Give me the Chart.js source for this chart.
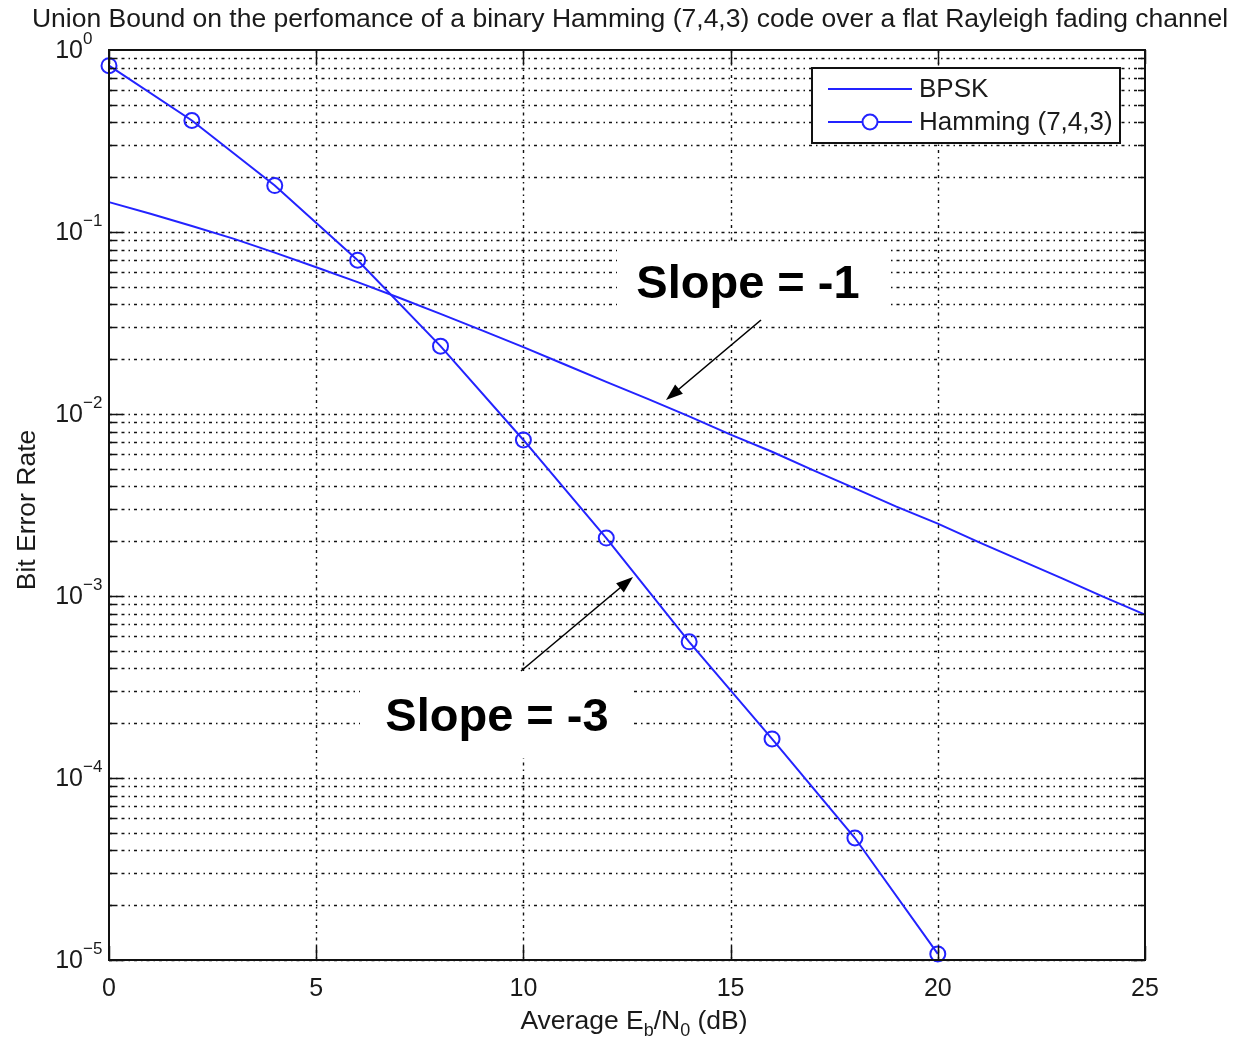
<!DOCTYPE html>
<html>
<head>
<meta charset="UTF-8">
<title>Union Bound - Hamming (7,4,3)</title>
<script src="https://cdn.jsdelivr.net/npm/chart.js"></script>
<style>
    body {
        margin: 0;
        background: #fff;
    }
    #wrap {
        width: 1238px;
        height: 1040px;
    }
</style>
</head>
<body>
<div id="wrap"><canvas id="berChart" width="1238" height="1040"></canvas></div>
<script>
const titleText = 'Union Bound on the perfomance of a binary Hamming (7,4,3) code over a flat Rayleigh fading channel';
const xTicks = [0, 5, 10, 15, 20, 25];
const yDecades = [1, 0.1, 0.01, 0.001, 0.0001, 0.00001];
const yExponents = ['0', '\u22121', '\u22122', '\u22123', '\u22124', '\u22125'];

// BPSK over Rayleigh at every dB
const bpskSnr = [0, 1, 2, 3, 4, 5, 6, 7, 8, 9, 10, 11, 12, 13, 14, 15, 16, 17, 18, 19, 20, 21, 22, 23, 24, 25];
const bpskBer = [0.146, 0.126, 0.108, 0.092, 0.077, 0.064, 0.053, 0.0435, 0.0355, 0.0288, 0.0233,
    0.0187, 0.0150, 0.0121, 0.0097, 0.0077, 0.0062, 0.0049, 0.0039, 0.0031, 0.0025,
    0.00197, 0.00157, 0.00125, 0.00099, 0.00079];

// Hamming (7,4,3) union bound, marker points
const hammingSnr = [0, 2, 4, 6, 8, 10, 12, 14, 16, 18, 20];
const hammingBer = [0.82, 0.41, 0.18, 0.070, 0.0236, 0.0072, 0.00208, 0.00056, 0.000164, 0.0000468, 0.0000108];

const FONT = '"Liberation Sans", Arial, sans-serif';
const BLUE = 'rgb(35,35,255)';

// all grid rows: 1..9 x each decade
const yGrid = [];
yDecades.slice(1).forEach(d => {
    for (let k = 1; k <= 9; k++) yGrid.push(k * d);
});

function arrow(ctx, x1, y1, x2, y2) {
    const ang = Math.atan2(y2 - y1, x2 - x1);
    const len = 17, half = 6;
    ctx.beginPath();
    ctx.moveTo(x1, y1);
    ctx.lineTo(x2 - Math.cos(ang) * len * 0.8, y2 - Math.sin(ang) * len * 0.8);
    ctx.stroke();
    ctx.beginPath();
    ctx.moveTo(x2, y2);
    ctx.lineTo(x2 - Math.cos(ang) * len - Math.sin(ang) * half, y2 - Math.sin(ang) * len + Math.cos(ang) * half);
    ctx.lineTo(x2 - Math.cos(ang) * len + Math.sin(ang) * half, y2 - Math.sin(ang) * len - Math.cos(ang) * half);
    ctx.closePath();
    ctx.fill();
}

const matlabLook = {
    id: 'matlabLook',
    beforeDatasetsDraw(chart) {
        const {ctx, chartArea: a, scales: {x, y}} = chart;
        ctx.save();
        ctx.strokeStyle = '#111';
        ctx.lineWidth = 1.4;
        ctx.setLineDash([3, 4, 1.5, 4]);
        yGrid.forEach(v => {
            const py = Math.round(y.getPixelForValue(v)) + 0.5;
            ctx.beginPath();
            ctx.moveTo(a.left, py);
            ctx.lineTo(a.right, py);
            ctx.stroke();
        });
        xTicks.slice(1, -1).forEach(v => {
            const px = Math.round(x.getPixelForValue(v)) + 0.5;
            ctx.beginPath();
            ctx.moveTo(px, a.top);
            ctx.lineTo(px, a.bottom);
            ctx.stroke();
        });
        ctx.restore();
    },
    afterDatasetsDraw(chart) {
        const {ctx, chartArea: a, scales: {x, y}} = chart;
        ctx.save();
        ctx.strokeStyle = '#111';
        ctx.fillStyle = '#111';

        // tick marks inside the box
        ctx.lineWidth = 1.5;
        yGrid.forEach(v => {
            const py = Math.round(y.getPixelForValue(v)) + 0.5;
            const len = yDecades.includes(v) ? 14 : 7;
            ctx.beginPath();
            ctx.moveTo(a.left, py); ctx.lineTo(a.left + len, py);
            ctx.moveTo(a.right, py); ctx.lineTo(a.right - len, py);
            ctx.stroke();
        });
        xTicks.forEach(v => {
            const px = Math.round(x.getPixelForValue(v)) + 0.5;
            ctx.beginPath();
            ctx.moveTo(px, a.top); ctx.lineTo(px, a.top + 14);
            ctx.moveTo(px, a.bottom); ctx.lineTo(px, a.bottom - 14);
            ctx.stroke();
        });

        // axes box
        ctx.lineWidth = 2;
        ctx.strokeRect(a.left, a.top, a.right - a.left, a.bottom - a.top);

        // title
        ctx.font = '26.5px ' + FONT;
        ctx.textAlign = 'center';
        ctx.textBaseline = 'alphabetic';
        ctx.fillStyle = '#1a1a1a';
        ctx.fillText(titleText, 630, 27);

        // x tick labels
        ctx.font = '25px ' + FONT;
        ctx.textBaseline = 'middle';
        xTicks.forEach(v => ctx.fillText(String(v), x.getPixelForValue(v), 989));

        // y tick labels 10^n
        yDecades.forEach((v, i) => {
            const py = y.getPixelForValue(v);
            ctx.font = '25px ' + FONT;
            ctx.textAlign = 'right';
            ctx.textBaseline = 'middle';
            ctx.fillText('10', 83, py + 1);
            ctx.font = '17px ' + FONT;
            ctx.textAlign = 'left';
            ctx.textBaseline = 'alphabetic';
            ctx.fillText(yExponents[i], 83, py - 6);
        });

        // x axis title with subscripts
        const parts = [['Average E', 26.5, 0], ['b', 18, 7], ['/N', 26.5, 0], ['0', 18, 7], [' (dB)', 26.5, 0]];
        let total = 0;
        parts.forEach(p => { ctx.font = p[1] + 'px ' + FONT; total += ctx.measureText(p[0]).width; });
        let cx = 634 - total / 2;
        ctx.textAlign = 'left';
        ctx.textBaseline = 'alphabetic';
        parts.forEach(p => {
            ctx.font = p[1] + 'px ' + FONT;
            ctx.fillText(p[0], cx, 1029 + p[2]);
            cx += ctx.measureText(p[0]).width;
        });

        // y axis title
        ctx.save();
        ctx.translate(28, 510);
        ctx.rotate(-Math.PI / 2);
        ctx.font = '26.5px ' + FONT;
        ctx.textAlign = 'center';
        ctx.textBaseline = 'middle';
        ctx.fillText('Bit Error Rate', 0, 0);
        ctx.restore();

        // legend
        ctx.fillStyle = '#fff';
        ctx.fillRect(812, 68, 308, 75);
        ctx.strokeStyle = '#111';
        ctx.lineWidth = 2;
        ctx.strokeRect(812, 68, 308, 75);
        ctx.strokeStyle = BLUE;
        ctx.lineWidth = 2;
        ctx.beginPath();
        ctx.moveTo(828, 89); ctx.lineTo(912, 89);
        ctx.moveTo(828, 122); ctx.lineTo(912, 122);
        ctx.stroke();
        ctx.fillStyle = '#fff';
        ctx.beginPath();
        ctx.arc(870, 122, 7.5, 0, Math.PI * 2);
        ctx.fill();
        ctx.stroke();
        ctx.fillStyle = '#1a1a1a';
        ctx.font = '26px ' + FONT;
        ctx.textAlign = 'left';
        ctx.textBaseline = 'middle';
        chart.data.datasets.forEach((ds, i) => ctx.fillText(ds.label, 919, 90 + i * 33));

        // slope annotations
        ctx.fillStyle = '#fff';
        ctx.fillRect(617, 242, 270, 80);
        ctx.fillRect(360, 672, 273, 86);
        ctx.fillStyle = '#000';
        ctx.font = 'bold 47px ' + FONT;
        ctx.textAlign = 'center';
        ctx.textBaseline = 'alphabetic';
        ctx.fillText('Slope = -1', 748, 298);
        ctx.fillText('Slope = -3', 497, 731);
        ctx.strokeStyle = '#000';
        ctx.lineWidth = 1.6;
        arrow(ctx, 761, 320, 666, 400);
        arrow(ctx, 521, 671, 633, 577);

        ctx.restore();
    }
};

const ctx = document.getElementById('berChart').getContext('2d');
new Chart(ctx, {
    type: 'line',
    data: {
        datasets: [{
            label: 'BPSK',
            data: bpskSnr.map((s, i) => ({x: s, y: bpskBer[i]})),
            borderColor: BLUE,
            borderWidth: 2,
            pointRadius: 0,
            tension: 0,
            clip: false
        }, {
            label: 'Hamming (7,4,3)',
            data: hammingSnr.map((s, i) => ({x: s, y: hammingBer[i]})),
            borderColor: BLUE,
            borderWidth: 2,
            pointRadius: 7.5,
            pointBorderWidth: 2,
            pointBorderColor: BLUE,
            pointBackgroundColor: 'rgba(0,0,0,0)',
            tension: 0,
            clip: false
        }]
    },
    options: {
        responsive: false,
        animation: false,
        devicePixelRatio: 1,
        events: [],
        layout: {
            padding: {left: 0, top: 50, right: 93, bottom: 0},
            autoPadding: false
        },
        plugins: {
            legend: {display: false},
            title: {display: false},
            tooltip: {enabled: false}
        },
        scales: {
            x: {
                type: 'linear',
                min: 0,
                max: 25,
                ticks: {display: false},
                grid: {display: false},
                border: {display: false},
                afterFit(scale) { scale.height = 80; }
            },
            y: {
                type: 'logarithmic',
                min: 0.00001,
                max: 1,
                ticks: {display: false},
                grid: {display: false},
                border: {display: false},
                afterFit(scale) { scale.width = 109; }
            }
        }
    },
    plugins: [matlabLook]
});
</script>
</body>
</html>
